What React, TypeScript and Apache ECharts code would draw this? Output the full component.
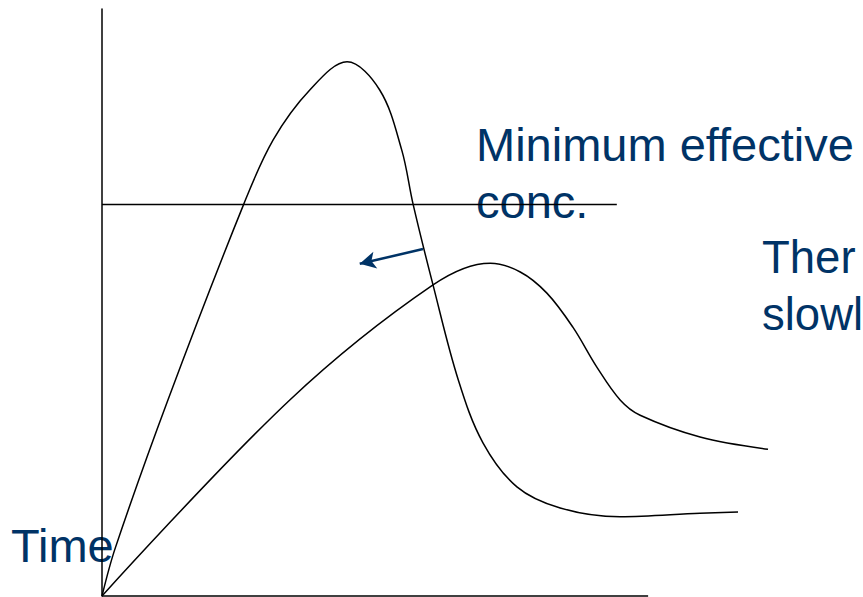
import React, { useEffect, useRef } from "react";
import * as echarts from "echarts";

// Concentration (0-100) against time (0-100)
const fastRelease: [number, number][] = [
  [0, 0], [2.0, 8.2], [9.9, 33.4], [21.3, 66.8], [25.7, 77.7], [31.2, 86.2],
  [36.8, 91.0], [41.7, 86.2], [45.0, 76.0], [46.7, 66.8], [49.7, 53.0],
  [53.5, 36.8], [57.2, 26.1], [62.3, 18.6], [68.8, 15.0], [77.8, 13.5],
  [89.8, 14.1], [95.5, 14.3],
];
const slowRelease: [number, number][] = [
  [0, 0], [28.2, 33.4], [49.7, 53.0], [58.3, 56.7], [62.8, 55.2], [66.8, 51.6],
  [70.7, 45.8], [74.3, 39.0], [77.8, 33.4], [80.8, 30.8], [89.8, 27.1],
  [100, 25.0],
];
const timeAxisLine: [number, number][] = [[0, 0], [82, 0]];
const mecLine: [number, number][] = [[0, 66.7], [77.3, 66.7]];
const arrowFrom: [number, number] = [48.2, 59.1];
const arrowTo: [number, number] = [38.7, 56.6];

const labelTexts = ["Minimum effective", "conc.", "Ther", "slowl", "Time"];

const NAVY = "#003366";

export default function App() {
  const ref = useRef<HTMLDivElement>(null);
  useEffect(() => {
    if (!ref.current) return;
    const chart = echarts.init(ref.current, null, { renderer: "svg" });
    const txt = (text: string, x: number, y: number, size: number) => ({
      type: "text",
      x,
      y,
      style: {
        text,
        font: `${size}px 'Liberation Sans', Arial, sans-serif`,
        fill: NAVY,
        textAlign: "left",
        textVerticalAlign: "middle",
      },
    });
    const lineSeries = (name: string, data: [number, number][], smooth: number | boolean) => ({
      type: "line",
      name,
      data,
      smooth,
      symbol: "none",
      showSymbol: false,
      clip: false,
      lineStyle: { color: "#000", width: 1.5 },
      silent: true,
    });
    chart.setOption({
      animation: false,
      backgroundColor: "#fff",
      grid: { left: 102, top: 9, width: 666, height: 587 },
      xAxis: {
        type: "value",
        min: 0,
        max: 100,
        axisLine: { show: false },
        axisTick: { show: false },
        axisLabel: { show: false },
        splitLine: { show: false },
      },
      yAxis: {
        type: "value",
        min: 0,
        max: 100,
        axisLine: { show: true, lineStyle: { color: "#000", width: 1.5 } },
        axisTick: { show: false },
        axisLabel: { show: false },
        splitLine: { show: false },
      },
      series: [
        lineSeries("time axis", timeAxisLine, false),
        lineSeries("minimum effective conc.", mecLine, false),
        lineSeries("fast release", fastRelease, 0.35),
        {
          ...lineSeries("slow release", slowRelease, 0.35),
          markLine: {
            silent: true,
            symbol: ["none", "arrow"],
            symbolSize: [13, 16],
            label: { show: false },
            lineStyle: { color: NAVY, width: 2.5, type: "solid" },
            data: [[{ coord: arrowFrom }, { coord: arrowTo }]],
          },
        },
      ],
      graphic: [
        txt(labelTexts[0], 476, 144, 47),
        txt(labelTexts[1], 476, 201, 47),
        txt(labelTexts[2], 762, 257, 45.5),
        txt(labelTexts[3], 762, 314, 45.5),
        txt(labelTexts[4], 11, 545, 47),
      ],
    });
    return () => chart.dispose();
  }, []);
  return (
    <div
      ref={ref}
      style={{ position: "fixed", left: 0, top: 0, width: 863, height: 597, background: "#fff" }}
    />
  );
}
